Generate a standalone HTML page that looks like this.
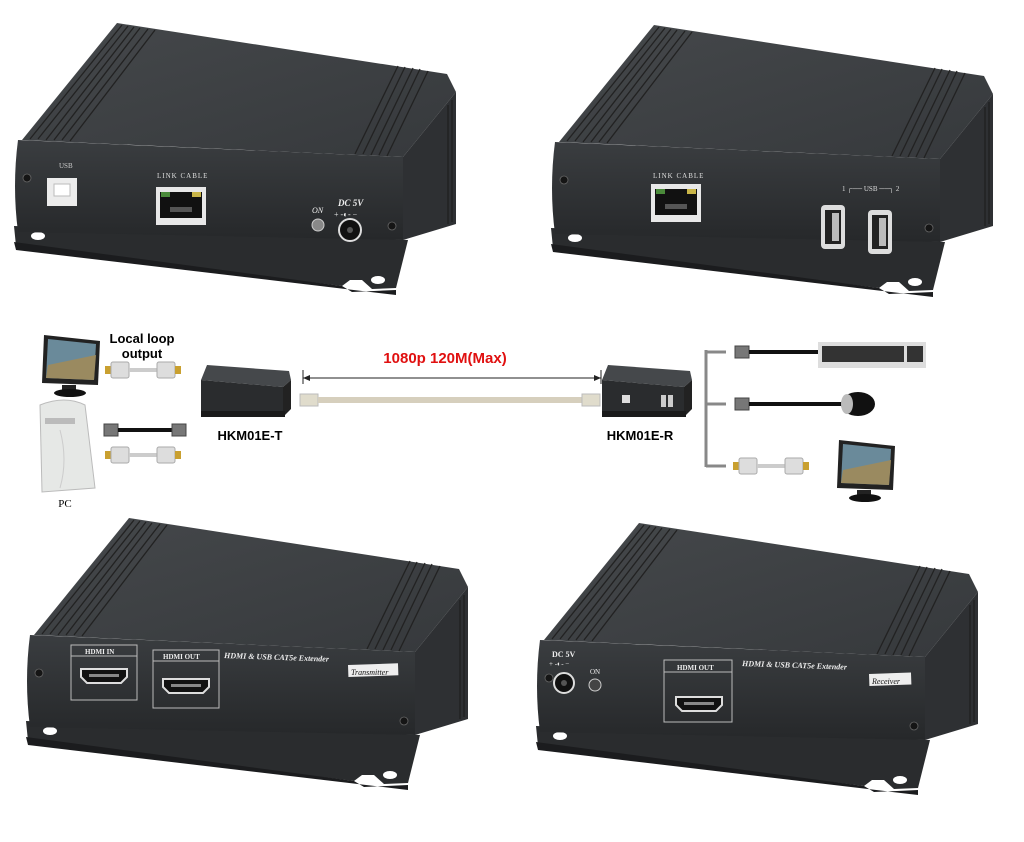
<!DOCTYPE html>
<html><head><meta charset="utf-8"><style>
html,body{margin:0;padding:0;background:#fff;}
svg{display:block;}
text{font-family:"Liberation Serif",serif;}
.s{font-family:"Liberation Sans",sans-serif;font-weight:bold;}
</style></head><body>
<svg width="1024" height="842" viewBox="0 0 1024 842" xmlns="http://www.w3.org/2000/svg">
<defs>
<linearGradient id="tg" x1="0" y1="0" x2="1" y2="1"><stop offset="0" stop-color="#45484b"/><stop offset="1" stop-color="#36393c"/></linearGradient>
<linearGradient id="fg" x1="0" y1="0" x2="0" y2="1"><stop offset="0" stop-color="#3a3d40"/><stop offset="1" stop-color="#26282a"/></linearGradient>
<g id="dev">
  <!-- flange -->
  <polygon points="14,226 408,240 396,288 372,289 362,280 350,280 342,286 16,246" fill="#2a2c2e"/>
  <polygon points="14,242 342,286 352,292 396,290 396,295 16,250" fill="#1b1c1e"/>
  <ellipse cx="38" cy="236" rx="7" ry="4" fill="#fff"/>
  <ellipse cx="378" cy="280" rx="7" ry="4" fill="#fff"/>
  <!-- top -->
  <polygon points="22,140 117,23 447,74 456,92 403,157" fill="url(#tg)"/>
  <g stroke="#222" stroke-width="1.3">
    <line x1="30" y1="139" x2="122" y2="25"/><line x1="38" y1="139" x2="128" y2="26"/>
    <line x1="46" y1="140" x2="134" y2="27"/><line x1="54" y1="140" x2="140" y2="28"/>
    <line x1="62" y1="140" x2="148" y2="29"/><line x1="70" y1="141" x2="155" y2="30"/>
    <line x1="355" y1="154" x2="398" y2="66"/><line x1="363" y1="154" x2="405" y2="67"/>
    <line x1="371" y1="155" x2="413" y2="68"/><line x1="379" y1="155" x2="420" y2="69"/>
    <line x1="387" y1="156" x2="428" y2="71"/>
  </g>
  <!-- side -->
  <polygon points="403,157 456,92 456,224 403,240" fill="#2e3033"/>
  <g stroke="#1a1a1a" stroke-width="1"><line x1="452" y1="100" x2="452" y2="222"/><line x1="448" y1="105" x2="448" y2="224"/></g>
  <!-- front -->
  <path d="M18,140 L403,157 L403,240 L18,232 Q12,186 18,140 Z" fill="url(#fg)"/>
  <circle cx="27" cy="178" r="4" fill="#151515" stroke="#666" stroke-width="0.8"/>
  <circle cx="392" cy="226" r="4" fill="#151515" stroke="#666" stroke-width="0.8"/>
</g>
<g id="rj">
  <rect x="0" y="0" width="50" height="38" fill="#e8e8e8"/>
  <rect x="4" y="5" width="42" height="26" fill="#111"/>
  <rect x="5" y="5" width="9" height="5" fill="#4a8a3a"/><rect x="36" y="5" width="9" height="5" fill="#c9b548"/>
  <rect x="14" y="20" width="22" height="5" fill="#555"/>
</g>
<g id="hdmi">
  <path d="M0,0 H46 V8 L40,14 H6 L0,8 Z" fill="#111" stroke="#ddd" stroke-width="2"/>
  <rect x="8" y="5" width="30" height="3" fill="#888"/>
</g>
<g id="usba">
  <rect x="0" y="0" width="24" height="44" rx="4" fill="#ddd"/>
  <rect x="4" y="5" width="16" height="34" fill="#222"/>
  <rect x="11" y="8" width="7" height="28" fill="#bbb"/>
</g>
<g id="hcab">
  <rect x="0" y="-4" width="6" height="8" fill="#c9a030"/>
  <rect x="6" y="-8" width="18" height="16" rx="2" fill="#ddd" stroke="#aaa"/>
  <rect x="24" y="-2" width="28" height="4" fill="#ccc"/>
  <rect x="52" y="-8" width="18" height="16" rx="2" fill="#ddd" stroke="#aaa"/>
  <rect x="70" y="-4" width="6" height="8" fill="#c9a030"/>
</g>
<g id="mon">
  <polygon points="4,0 60,6 58,50 2,48" fill="#222"/>
  <polygon points="8,4 56,9 54,45 6,43" fill="#6a8a9a"/>
  <polygon points="8,30 56,20 54,45 6,43" fill="#9a8a60"/>
  <rect x="22" y="50" width="14" height="6" fill="#222"/>
  <ellipse cx="30" cy="58" rx="16" ry="4" fill="#111"/>
</g>
<g id="mini">
  <polygon points="10,0 92,6 94,15 86,22 4,15" fill="#45484b"/>
  <polygon points="4,15 86,22 86,52 4,46" fill="#2a2c2e"/>
  <polygon points="86,22 94,15 94,44 86,52" fill="#222"/>
  <rect x="4" y="46" width="84" height="6" fill="#1a1a1a"/>
</g>
</defs>

<!-- top-left transmitter rear -->
<use href="#dev"/>
<text x="59" y="168" font-size="7" fill="#ccc">USB</text>
<rect x="47" y="178" width="30" height="28" fill="#ececec"/>
<rect x="54" y="184" width="16" height="12" fill="#fff" stroke="#bbb"/>
<text x="157" y="178" font-size="7" fill="#ddd" letter-spacing="1">LINK CABLE</text>
<use href="#rj" x="156" y="187"/>
<text x="312" y="213" font-size="8" fill="#eee" font-style="italic">ON</text>
<circle cx="318" cy="225" r="6" fill="#888" stroke="#ccc"/>
<text x="338" y="206" font-size="9" fill="#eee" font-weight="bold" font-style="italic">DC 5V</text>
<text x="334" y="217" font-size="8" fill="#eee">+ -◐- −</text>
<circle cx="350" cy="230" r="11" fill="#111" stroke="#ddd" stroke-width="2"/>
<circle cx="350" cy="230" r="3" fill="#555"/>

<!-- top-right receiver rear -->
<g transform="translate(537,2)">
<use href="#dev"/>
<text x="116" y="176" font-size="7" fill="#ddd" letter-spacing="1">LINK CABLE</text>
<use href="#rj" x="114" y="182"/>
<text x="305" y="189" font-size="7" fill="#ddd">1 ┌── USB ──┐ 2</text>
<use href="#usba" x="284" y="203"/>
<use href="#usba" x="331" y="208"/>
</g>

<!-- bottom-left transmitter front -->
<g transform="translate(12,495)">
<use href="#dev"/>
<rect x="59" y="150" width="66" height="55" fill="none" stroke="#bbb" stroke-width="1"/>
<line x1="59" y1="161" x2="125" y2="161" stroke="#bbb"/>
<text x="73" y="159" font-size="7" fill="#eee" font-weight="bold">HDMI IN</text>
<use href="#hdmi" x="69" y="174"/>
<rect x="141" y="155" width="66" height="58" fill="none" stroke="#bbb"/>
<line x1="141" y1="166" x2="207" y2="166" stroke="#bbb"/>
<text x="151" y="164" font-size="7" fill="#eee" font-weight="bold">HDMI OUT</text>
<use href="#hdmi" x="151" y="184"/>
<text x="212" y="163" font-size="8" fill="#eee" font-weight="bold" font-style="italic" transform="rotate(2 212 163)">HDMI &amp; USB CAT5e Extender</text>
<rect x="336" y="170" width="50" height="12" fill="#eee" transform="rotate(-2 336 170)"/>
<text x="339" y="180" font-size="8" fill="#111" font-style="italic">Transmitter</text>
</g>

<!-- bottom-right receiver front -->
<g transform="translate(522,500)">
<use href="#dev"/>
<text x="30" y="157" font-size="8" fill="#eee" font-weight="bold">DC 5V</text>
<text x="27" y="166" font-size="7" fill="#eee">+ -◐- −</text>
<circle cx="42" cy="183" r="10" fill="#111" stroke="#ddd" stroke-width="2"/>
<circle cx="42" cy="183" r="3" fill="#555"/>
<text x="68" y="174" font-size="7" fill="#eee">ON</text>
<circle cx="73" cy="185" r="6" fill="#444" stroke="#ccc"/>
<rect x="142" y="160" width="68" height="62" fill="none" stroke="#bbb"/>
<line x1="142" y1="172" x2="210" y2="172" stroke="#bbb"/>
<text x="155" y="170" font-size="7" fill="#eee" font-weight="bold">HDMI OUT</text>
<use href="#hdmi" x="154" y="197"/>
<text x="220" y="166" font-size="8" fill="#eee" font-weight="bold" font-style="italic" transform="rotate(2 220 166)">HDMI &amp; USB CAT5e Extender</text>
<rect x="347" y="174" width="42" height="12" fill="#eee" transform="rotate(-2 347 174)"/>
<text x="350" y="184" font-size="8" fill="#111" font-style="italic">Receiver</text>
</g>

<!-- middle diagram -->
<use href="#mon" x="40" y="335"/>
<text class="s" x="142" y="343" font-size="13" text-anchor="middle">Local loop</text>
<text class="s" x="142" y="358" font-size="13" text-anchor="middle">output</text>
<use href="#hcab" x="105" y="370"/>
<!-- PC -->
<path d="M40,405 Q65,395 85,405 L95,488 L42,492 Z" fill="#e6e8e6" stroke="#bbb"/>
<rect x="45" y="418" width="30" height="6" fill="#bbb"/>
<path d="M60,430 Q68,460 60,488" stroke="#ccc" fill="none"/>
<text x="65" y="507" font-size="11" text-anchor="middle" font-family="Liberation Sans,sans-serif">PC</text>
<rect x="104" y="424" width="14" height="12" fill="#777" stroke="#444"/>
<rect x="118" y="428" width="54" height="4" fill="#111"/>
<rect x="172" y="424" width="14" height="12" fill="#777" stroke="#444"/>
<use href="#hcab" x="105" y="455"/>
<use href="#mini" x="197" y="365"/>
<text class="s" x="250" y="440" font-size="13" text-anchor="middle">HKM01E-T</text>
<!-- dimension -->
<text class="s" x="445" y="363" font-size="15" fill="#e01010" text-anchor="middle">1080p 120M(Max)</text>
<line x1="303" y1="378" x2="601" y2="378" stroke="#222" stroke-width="1"/>
<line x1="303" y1="370" x2="303" y2="384" stroke="#222"/><line x1="601" y1="370" x2="601" y2="384" stroke="#222"/>
<polygon points="303,378 310,375 310,381" fill="#222"/><polygon points="601,378 594,375 594,381" fill="#222"/>
<rect x="300" y="394" width="18" height="12" fill="#e0dccc" stroke="#bbb"/>
<rect x="318" y="397" width="264" height="6" fill="#d6cfbd"/>
<rect x="582" y="394" width="18" height="12" fill="#e0dccc" stroke="#bbb"/>
<g transform="translate(598,365)"><use href="#mini"/>
<rect x="24" y="30" width="8" height="8" fill="#ddd"/><rect x="63" y="30" width="5" height="12" fill="#ccc"/><rect x="70" y="30" width="5" height="12" fill="#ccc"/></g>
<text class="s" x="640" y="440" font-size="13" text-anchor="middle">HKM01E-R</text>
<!-- bracket -->
<g stroke="#888" stroke-width="3" fill="none">
<line x1="706" y1="350" x2="706" y2="467"/>
<line x1="706" y1="352" x2="726" y2="352"/><line x1="706" y1="404" x2="726" y2="404"/><line x1="706" y1="466" x2="726" y2="466"/>
</g>
<rect x="735" y="346" width="14" height="12" fill="#777" stroke="#444"/>
<rect x="749" y="350" width="70" height="4" fill="#111"/>
<rect x="818" y="342" width="108" height="26" fill="#ddd"/>
<rect x="822" y="346" width="82" height="16" fill="#333"/><rect x="907" y="346" width="16" height="16" fill="#333"/>
<rect x="735" y="398" width="14" height="12" fill="#777" stroke="#444"/>
<rect x="749" y="402" width="95" height="4" fill="#111"/>
<ellipse cx="858" cy="404" rx="17" ry="12" fill="#111"/>
<ellipse cx="847" cy="404" rx="6" ry="10" fill="#bbb"/>
<use href="#hcab" x="733" y="466"/>
<use href="#mon" x="835" y="440"/>
</svg>
</body></html>
